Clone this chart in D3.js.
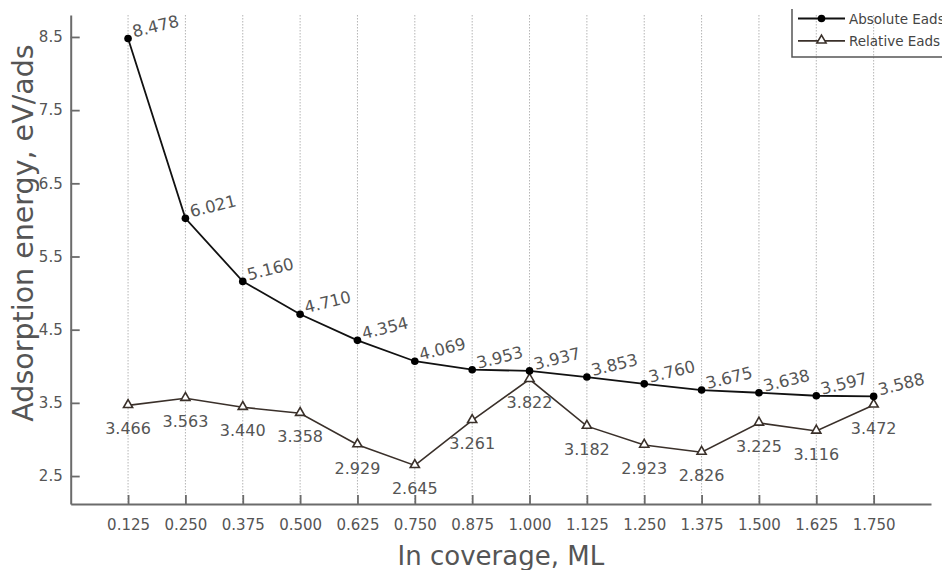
<!DOCTYPE html>
<html>
<head>
<meta charset="utf-8">
<script src="https://cdn.jsdelivr.net/npm/d3@7"></script>
<style>
  body { margin: 0; background: #fff; }
  svg { display: block; }
</style>
</head>
<body>
<div id="chart"></div>
<script>
var coverage = [0.125, 0.250, 0.375, 0.500, 0.625, 0.750, 0.875, 1.000, 1.125, 1.250, 1.375, 1.500, 1.625, 1.750];
var absoluteEads = [8.478, 6.021, 5.160, 4.710, 4.354, 4.069, 3.953, 3.937, 3.853, 3.760, 3.675, 3.638, 3.597, 3.588];
var relativeEads = [3.466, 3.563, 3.440, 3.358, 2.929, 2.645, 3.261, 3.822, 3.182, 2.923, 2.826, 3.225, 3.116, 3.472];
var yTicks = [2.5, 3.5, 4.5, 5.5, 6.5, 7.5, 8.5];
var seriesNames = ["Absolute Eads", "Relative Eads"];

var w = 942, h = 570;
var plotLeft = 70.7, plotRight = 931, plotTop = 15, plotBottom = 504;
var grey = "#6b6b6b", textGrey = "#555";
var font = "'DejaVu Sans', Verdana, sans-serif";
var fmt = d3.format(".3f");

var x = d3.scaleLinear().domain([0, 1.875]).range([plotLeft, plotRight]);
var y = d3.scaleLinear().domain([2.118, 8.8]).range([plotBottom, plotTop]);

var svg = d3.select("#chart")
  .append("svg")
  .attr("width", w)
  .attr("height", h)
  .style("background", "#fff");

// vertical dotted grid
svg.append("g")
  .selectAll("line")
  .data(coverage)
  .enter()
  .append("line")
  .attr("x1", function(d) { return x(d); })
  .attr("x2", function(d) { return x(d); })
  .attr("y1", plotTop)
  .attr("y2", plotBottom)
  .attr("stroke", "#b5b5b5")
  .attr("stroke-width", 1)
  .attr("stroke-dasharray", "1.5,1.5");

// axes
var xAxis = svg.append("g")
  .attr("transform", "translate(0," + plotBottom + ")")
  .call(d3.axisBottom(x).tickValues(coverage).tickFormat(fmt).tickSize(-9).tickPadding(15).tickSizeOuter(0));

var yAxis = svg.append("g")
  .attr("transform", "translate(" + plotLeft + ",0)")
  .call(d3.axisLeft(y).tickValues(yTicks).tickFormat(d3.format(".1f")).tickSize(-9).tickPadding(8).tickSizeOuter(0));

[xAxis, yAxis].forEach(function(a) {
  a.select(".domain").attr("stroke", grey).attr("stroke-width", 2);
  a.selectAll(".tick line").attr("stroke", grey).attr("stroke-width", 1.8);
  a.selectAll(".tick text")
    .attr("fill", textGrey)
    .attr("font-family", font)
    .attr("font-size", 15);
});

// axis titles
svg.append("text")
  .attr("x", (plotLeft + plotRight) / 2)
  .attr("y", 565)
  .attr("text-anchor", "middle")
  .attr("fill", textGrey)
  .attr("font-family", font)
  .attr("font-size", 26)
  .text("In coverage, ML");

svg.append("text")
  .attr("transform", "translate(33,233) rotate(-90)")
  .attr("text-anchor", "middle")
  .attr("fill", textGrey)
  .attr("font-family", font)
  .attr("font-size", 28.5)
  .text("Adsorption energy, eV/ads");

var line = d3.line()
  .x(function(d, i) { return x(coverage[i]); })
  .y(function(d) { return y(d); });

var triangle = d3.symbol().type(d3.symbolTriangle).size(36);

// relative series
svg.append("path")
  .datum(relativeEads)
  .attr("d", line)
  .attr("fill", "none")
  .attr("stroke", "#3a302a")
  .attr("stroke-width", 1.6);

svg.append("g")
  .selectAll("path")
  .data(relativeEads)
  .enter()
  .append("path")
  .attr("d", triangle)
  .attr("transform", function(d, i) { return "translate(" + x(coverage[i]) + "," + (y(d) - 0.5) + ")"; })
  .attr("fill", "#fff")
  .attr("stroke", "#3a302a")
  .attr("stroke-width", 1.6);

svg.append("g")
  .selectAll("text")
  .data(relativeEads)
  .enter()
  .append("text")
  .attr("x", function(d, i) { return x(coverage[i]); })
  .attr("y", function(d) { return y(d) + 29; })
  .attr("text-anchor", "middle")
  .attr("fill", textGrey)
  .attr("font-family", font)
  .attr("font-size", 16)
  .text(function(d) { return fmt(d); });

// absolute series
svg.append("path")
  .datum(absoluteEads)
  .attr("d", line)
  .attr("fill", "none")
  .attr("stroke", "#111")
  .attr("stroke-width", 1.8);

svg.append("g")
  .selectAll("circle")
  .data(absoluteEads)
  .enter()
  .append("circle")
  .attr("cx", function(d, i) { return x(coverage[i]); })
  .attr("cy", function(d) { return y(d); })
  .attr("r", 3.8)
  .attr("fill", "#000");

svg.append("g")
  .selectAll("text")
  .data(absoluteEads)
  .enter()
  .append("text")
  .attr("transform", function(d, i) {
    return "translate(" + (x(coverage[i]) + 6) + "," + (y(d) - 1) + ") rotate(-14)";
  })
  .attr("fill", textGrey)
  .attr("font-family", font)
  .attr("font-size", 16.5)
  .text(function(d) { return fmt(d); });

// legend (box runs off the right edge)
var legend = svg.append("g");
legend.append("path")
  .attr("d", "M792,9V57H950")
  .attr("fill", "none")
  .attr("stroke", "#555")
  .attr("stroke-width", 1.5);

var rows = legend.selectAll("g.row")
  .data(seriesNames)
  .enter()
  .append("g")
  .attr("class", "row")
  .attr("transform", function(d, i) { return "translate(0," + (18.5 + i * 22.3) + ")"; });

rows.append("line")
  .attr("x1", 798).attr("x2", 845)
  .attr("stroke", function(d, i) { return i == 0 ? "#111" : "#3a302a"; })
  .attr("stroke-width", 1.8);

rows.filter(function(d, i) { return i == 0; })
  .append("circle")
  .attr("cx", 821.5).attr("r", 3.8).attr("fill", "#000");

rows.filter(function(d, i) { return i == 1; })
  .append("path")
  .attr("d", triangle)
  .attr("transform", "translate(821.5,-0.5)")
  .attr("fill", "#fff")
  .attr("stroke", "#3a302a")
  .attr("stroke-width", 1.6);

rows.append("text")
  .attr("x", 849)
  .attr("y", 5)
  .attr("fill", "#444")
  .attr("font-family", font)
  .attr("font-size", 13.5)
  .text(function(d) { return d; });
</script>
</body>
</html>
